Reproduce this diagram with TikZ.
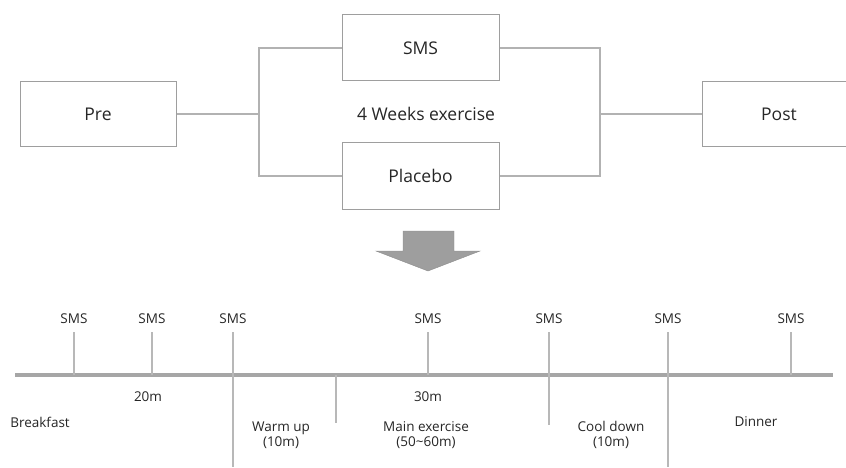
\documentclass[tikz,border=0pt]{standalone}
\usepackage{fontspec}
\setmainfont{Open Sans}
\usepackage{tikz}

\tikzset{
	stagebox/.style={draw=black!38, line width=1pt, minimum height=65pt, text=black!85, font=\fontsize{17.5}{19}\selectfont},
	link/.style={draw=black!30, line width=1.4pt},
	tick/.style={draw=black!28, line width=1.2pt},
	lbl/.style={text=black!85, font=\fontsize{13.5}{15}\selectfont, align=center}
}

\begin{document}
\begin{tikzpicture}[x=1pt, y=-1pt]
	\useasboundingbox (0,0) rectangle (846,468);

	% upper part
	\node[stagebox, minimum width=156pt] (pre) at (98,114) {Pre};
	\node[stagebox, minimum width=157pt, minimum height=66pt] (sms) at (420.5,48) {SMS};
	\node[stagebox, minimum width=157pt, minimum height=66pt] (placebo) at (420.5,176) {Placebo};
	\node[stagebox, minimum width=154pt] (post) at (779,114) {Post};
	\node[text=black!85, font=\fontsize{17.5}{19}\selectfont] (weeks) at (426,114) {4 Weeks exercise};
	\coordinate (lj) at (259,114);
	\coordinate (rj) at (600,114);
	\draw[link] (pre) -- (lj);
	\draw[link] (sms.west) -| (lj) |- (placebo.west);
	\draw[link] (sms.east) -| (rj) |- (placebo.east);
	\draw[link] (rj) -- (post);

	% arrow
	\draw[fill=black!38, draw=black!45] (403,231) -- (454,231) -- (454,251) -- (480,251) -- (428,271) -- (376,251) -- (403,251) -- cycle;

	% time line
	\draw[draw=black!35, line width=4pt] (15,375) -- (833,375);
	\foreach \x/\y in {74/375, 152/375, 233/467, 428/375, 549/425, 668/467, 791/375}{
		\draw[tick] (\x,332) -- (\x,\y);
		\node[lbl] at (\x,319) {SMS};
	}
	\draw[tick] (336,375) -- (336,423);

	\node[lbl] (t20) at (148,397) {20m};
	\node[lbl] (t30) at (428,397) {30m};
	\node[lbl] (breakfast) at (40,422) {Breakfast};
	\node[lbl] (warmup) at (281,435) {Warm up\\(10m)};
	\node[lbl] (main) at (426,435) {Main exercise\\(50\textasciitilde 60m)};
	\node[lbl] (cool) at (611,435) {Cool down\\(10m)};
	\node[lbl] (dinner) at (756,422) {Dinner};
\end{tikzpicture}
\end{document}
